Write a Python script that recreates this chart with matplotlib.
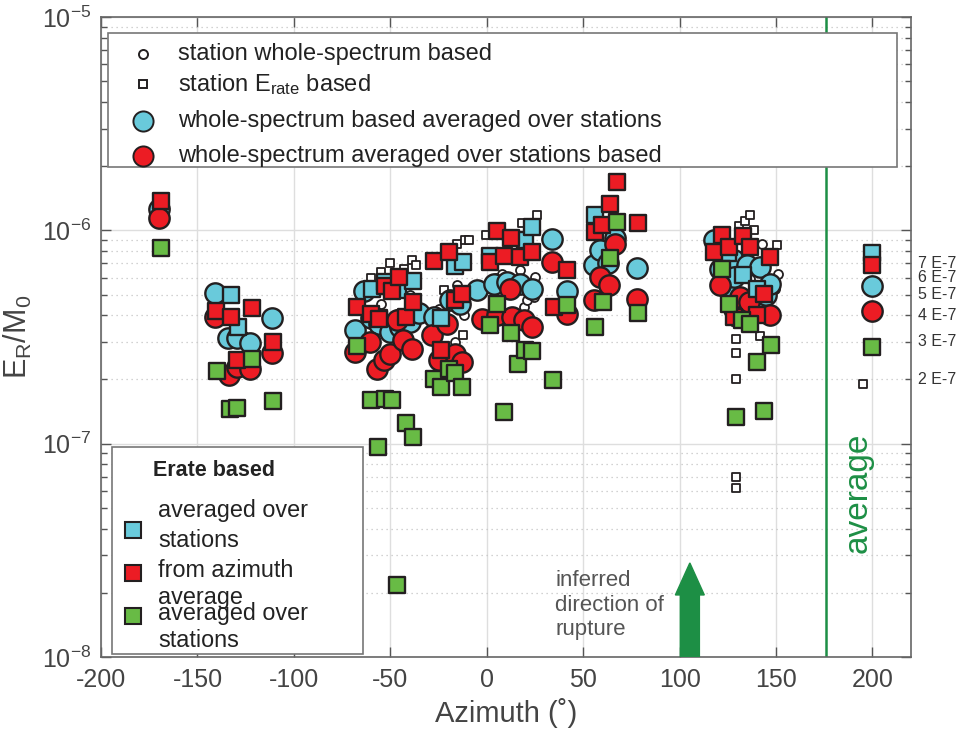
import numpy as np
import matplotlib.pyplot as plt
from matplotlib.patches import Rectangle, FancyArrow

plt.rcParams['font.family'] = ['Liberation Sans', 'DejaVu Sans']
plt.rcParams['mathtext.fontset'] = 'custom'
plt.rcParams['mathtext.rm'] = 'Liberation Sans'
plt.rcParams['mathtext.it'] = 'Liberation Sans:italic'
plt.rcParams['axes.unicode_minus'] = False

# E_R/M_0 values are in units of 1e-7, azimuths in degrees
# station whole-spectrum based (small open circles)
ws_sta_az = [-170, -131, -126, -55, -46.6, -40, -37, -25, -16.3, -15.5, -12, 5, 7.9, 17.4,
             19.1, 20.9, 24.3, 25.2, 136.7, 142.7, 145, 149.7, 150.9, 200]
ws_sta_val = [12.4, 3.4, 3.2, 4.5, 4.07, 5.0, 3.9, 4.3, 3.0, 5.52, 4.0, 6.0, 6.27, 6.49,
              4.37, 4.7, 4.87, 6.04, 5.93, 8.66, 4.8, 5.33, 6.27, 5.2]

# station Erate based (small open squares)
er_sta_az = [-130, -127, -60.1, -55, -50.4, -43, -38.8, -36.6, -22.4, -15.5, -12.4, -11.2,
             -9.4, -0.3, 18.2, 26, 60, 66, 129, 129, 129.3, 129.3, 129.3, 129, 130.6, 134,
             136.7, 138.4, 141.9, 150.5, 195.2]
er_sta_val = [3.3, 3.6, 6.0, 6.4, 7.0, 6.6, 7.3, 6.85, 5.27, 8.66, 3.24, 8.98,
              9.05, 9.48, 10.8, 11.8, 11.0, 13.0, 0.70, 0.62, 3.1, 2.67, 2.0, 3.7, 10.5, 11.1,
              11.8, 10.0, 3.2, 8.5, 1.91]

# whole-spectrum based averaged over stations (cyan circles)
ws_avg_az = [-170, -140.8, -134.1, -129.6, -122.7, -111.5, -68.2, -63.9, -60, -56.1, -50.1,
             -44.9, -40, -35, -27.6, -18.9, -13.7, -5.1, 3.5, 10.5, 17.4, 23.4, 33.8, 41.6,
             55.4, 58.9, 63, 66.7, 77.9, 117.7, 121.1, 124, 128, 128, 132.4, 135, 140.2,
             141.9, 145, 147, 200]
ws_avg_val = [12.6, 5.07, 3.14, 3.14, 2.96, 3.88, 3.4, 5.2, 3.9, 3.65, 3.34,
              3.52, 3.7, 4.1, 3.92, 4.7, 4.53, 5.23, 5.62, 5.73, 5.62, 5.33, 9.14, 5.2,
              6.85, 8.12, 7.0, 9.24, 6.68, 8.98, 6.61, 5.5, 7.23, 6.04, 4.78, 6.85, 4.53,
              6.73, 5.0, 5.62, 5.5]

# whole-spectrum averaged over stations based (red circles)
ws_az_az = [-170, -141, -133.4, -129.6, -122.7, -111.5, -68.2, -60.4, -57, -53.5, -50.1,
            -46.6, -43.2, -38.8, -28.4, -25, -20.6, -16.3, -12.9, -2.5, 5.3, 12.2, 13.1,
            19.1, 23.4, 33.8, 41.6, 55.4, 58.9, 63.2, 66.7, 77.9, 121.1, 128, 131.5, 136,
            147, 200]
ws_az_val = [11.4, 3.92, 2.09, 2.28, 2.25, 2.67, 2.69, 3.0, 2.25, 2.46, 2.64,
             3.79, 3.05, 2.78, 3.22, 2.46, 3.65, 2.64, 2.41, 3.86, 4.0, 5.33, 3.92,
             3.79, 3.54, 7.1, 4.07, 4.7, 6.04, 5.52, 8.6, 4.78, 5.52, 4.3, 4.87, 4.6,
             4.0, 4.18]

# Erate based, averaged over stations (cyan squares)
er_avg_az = [-132.7, -129, -59.6, -56, -52.7, -45.8, -38.5, -23.6, -16.3, -12.4, 1.7, 20,
             23.4, 56.3, 125, 133, 140, 200]
er_avg_val = [4.95, 3.52, 5.33, 3.9, 5.73, 5.23, 5.8, 3.9, 6.83, 7.1, 7.6, 8.98,
              10.36, 11.8, 7.8, 6.2, 5.3, 7.8]

# Erate based, from azimuth average (red squares)
er_az_az = [-169, -140.3, -132.7, -129.6, -121.8, -111, -67.4, -59.9, -56.1, -52.7, -49.2,
            -45.4, -41.8, -38.3, -27.1, -23.8, -19.8, -16.3, -12.6, 1.8, 5.3, 8.7, 12.6,
            17.4, 23.4, 34.7, 41.6, 56.3, 59.8, 63.7, 67.5, 78.3, 118, 122, 125.4, 128,
            132.9, 136.3, 140.2, 143.6, 147, 200]
er_az_val = [13.7, 4.19, 3.91, 2.46, 4.31, 3.0, 4.37, 4.07, 3.86, 5.46, 5.19,
             6.04, 3.92, 4.61, 7.18, 2.74, 7.91, 4.7, 5.05, 7.1, 9.9, 7.55, 9.24,
             7.5, 7.9, 4.37, 6.55, 9.8, 10.55, 13.3, 16.9, 10.8, 7.9, 9.5, 8.35, 3.92,
             9.37, 8.35, 4.0, 5.05, 7.5, 6.85]

# Erate based, averaged over stations (green squares)
er_g_az = [-169, -140, -133, -129.3, -121.8, -111, -67.4, -60.1, -56.4, -52.7, -49.2,
           -46.4, -41.9, -38.3, -27.6, -23.8, -19.8, -16.3, -12.9, 1.8, 5.3, 9.0, 12.6,
           16.2, 20, 23.4, 34.3, 41.6, 56.3, 60.3, 63.7, 67.5, 78.3, 122, 125.4, 129.3,
           132.4, 136.7, 140.2, 143.6, 147.4, 200]
er_g_val = [8.3, 2.19, 1.46, 1.47, 2.49, 1.58, 2.86, 1.61, 0.97, 1.62, 1.61,
            0.217, 1.25, 1.08, 2.02, 1.84, 2.25, 2.14, 1.84, 3.6, 4.5, 1.41, 3.3,
            2.37, 2.74, 2.71, 1.99, 4.46, 3.52, 4.61, 7.45, 11.0, 4.11, 6.61, 4.53, 1.34,
            3.79, 3.65, 2.41, 1.43, 2.89, 2.84]

side_vals = [7, 6, 5, 4, 3, 2]
side_labels = ['7 E-7', '6 E-7', '5 E-7', '4 E-7', '3 E-7', '2 E-7']

cyan = '#69cadb'
red = '#ec1c24'
green = '#68bb45'
edge = '#231f20'
dkgreen = '#1d8f45'
grey = '#444444'

fig = plt.figure(figsize=(9.65, 7.36), dpi=100)
ax = fig.add_axes([0.1047, 0.1073, 0.8394, 0.8696])
ax.set_yscale('log')

def scale(v):
    return np.array(v) * 1e-7

ax.scatter(ws_sta_az, scale(ws_sta_val), s=42, marker='o', facecolor='white',
           edgecolor=edge, linewidth=1.3, zorder=2)
ax.scatter(er_sta_az, scale(er_sta_val), s=34, marker='s', facecolor='white',
           edgecolor=edge, linewidth=1.3, zorder=2)
ax.scatter(ws_avg_az, scale(ws_avg_val), s=215, marker='o', facecolor=cyan,
           edgecolor=edge, linewidth=1.7, zorder=3)
ax.scatter(ws_az_az, scale(ws_az_val), s=215, marker='o', facecolor=red,
           edgecolor=edge, linewidth=1.7, zorder=3)
ax.scatter(er_avg_az, scale(er_avg_val), s=140, marker='s', facecolor=cyan,
           edgecolor=edge, linewidth=1.7, zorder=3)
ax.scatter(er_az_az, scale(er_az_val), s=140, marker='s', facecolor=red,
           edgecolor=edge, linewidth=1.7, zorder=3)
ax.scatter(er_g_az, scale(er_g_val), s=140, marker='s', facecolor=green,
           edgecolor=edge, linewidth=1.7, zorder=3)

ax.set_xlim(-200, 220)
ax.set_ylim(1e-8, 1e-5)
ax.set_xticks(np.arange(-200, 201, 50))
ax.tick_params(which='both', direction='in', top=True, right=True, colors='#555555',
               labelcolor=grey)
ax.tick_params(which='major', length=7, width=1, labelsize=18)
ax.tick_params(axis='x', which='major', pad=8)
ax.tick_params(axis='y', which='major', pad=7)
ax.tick_params(which='minor', length=4, width=1)
ax.tick_params(axis='x', which='minor', bottom=False, top=False)
ax.set_axisbelow(True)
ax.grid(which='major', color='#dedede', lw=1, ls='-')
ax.grid(which='minor', axis='y', color='#c4c4c4', lw=0.9, ls=(0, (1, 3)))
for sp in ax.spines.values():
    sp.set_color('#666666')
    sp.set_linewidth(1.2)

ax.set_xlabel('Azimuth (˚)', fontsize=21, color=grey, labelpad=4)
ax.set_ylabel(r'E$_\mathregular{R}$/M$_\mathregular{0}$', fontsize=22, color=grey, labelpad=6)

# average line and rupture direction arrow
ax.axvline(176, color=dkgreen, lw=1.8, zorder=2)
ax.text(192.7, 5.9e-8, 'average', rotation=90, color=dkgreen, fontsize=24,
        ha='center', va='center')
xt = ax.get_xaxis_transform()
ax.add_patch(FancyArrow(105.3, 0, 0, 0.147, width=9.9, head_width=15, head_length=0.05,
                        length_includes_head=True, transform=xt, color=dkgreen, zorder=4))
ax.text(35.5, 0.081, 'inferred\ndirection of\nrupture', transform=xt, fontsize=16,
        color='#555555', ha='left', va='center', linespacing=1.2)

# labels at the right edge
yt = ax.get_yaxis_transform()
for v, lab in zip(side_vals, side_labels):
    ax.text(1.0086, v * 1e-7, lab, transform=yt, fontsize=11.5, color='#333333',
            va='center', ha='left', clip_on=False)

# upper legend box
ta = ax.transAxes
ax.add_patch(Rectangle((0.0086, 0.766), 0.9744, 0.209, transform=ta, facecolor='white',
                       edgecolor='#777777', lw=1.2, zorder=5))
top_rows = [
    (0.942, 'o', 'white', 6.5, 'station whole-spectrum based'),
    (0.895, 's', 'white', 5.5, r'station E$_\mathregular{rate}$ based'),
    (0.8375, 'o', cyan, 14.5, 'whole-spectrum based averaged over stations'),
    (0.783, 'o', red, 14.5, 'whole-spectrum averaged over stations based'),
]
for yy, mk, fc, ms, lab in top_rows:
    ax.plot([0.052], [yy], transform=ta, marker=mk, markersize=ms, markerfacecolor=fc,
            markeredgecolor=edge, markeredgewidth=1.4, ls='none', zorder=6, clip_on=False)
    ax.text(0.095, yy, lab, transform=ta, fontsize=17, color='#222222', va='center',
            zorder=6)

# lower legend box
ax.add_patch(Rectangle((0.0136, 0.0047), 0.3094, 0.3233, transform=ta, facecolor='white',
                       edgecolor='#777777', lw=1.2, zorder=5))
ax.text(0.064, 0.292, 'Erate based', transform=ta, fontsize=15.5, fontweight='bold',
        color='#222222', va='center', zorder=6)
low_rows = [
    (0.198, cyan, [(0.229, 'averaged over'), (0.182, 'stations')]),
    (0.131, red, [(0.135, 'from azimuth'), (0.093, 'average')]),
    (0.064, green, [(0.068, 'averaged over'), (0.026, 'stations')]),
]
for yy, fc, lines in low_rows:
    ax.plot([0.0395], [yy], transform=ta, marker='s', markersize=11, markerfacecolor=fc,
            markeredgecolor=edge, markeredgewidth=1.5, ls='none', zorder=6, clip_on=False)
    for ly, txt in lines:
        ax.text(0.0704, ly, txt, transform=ta, fontsize=16.8, color='#222222',
                va='center', zorder=6)

fig.savefig('out.png', dpi=100)
